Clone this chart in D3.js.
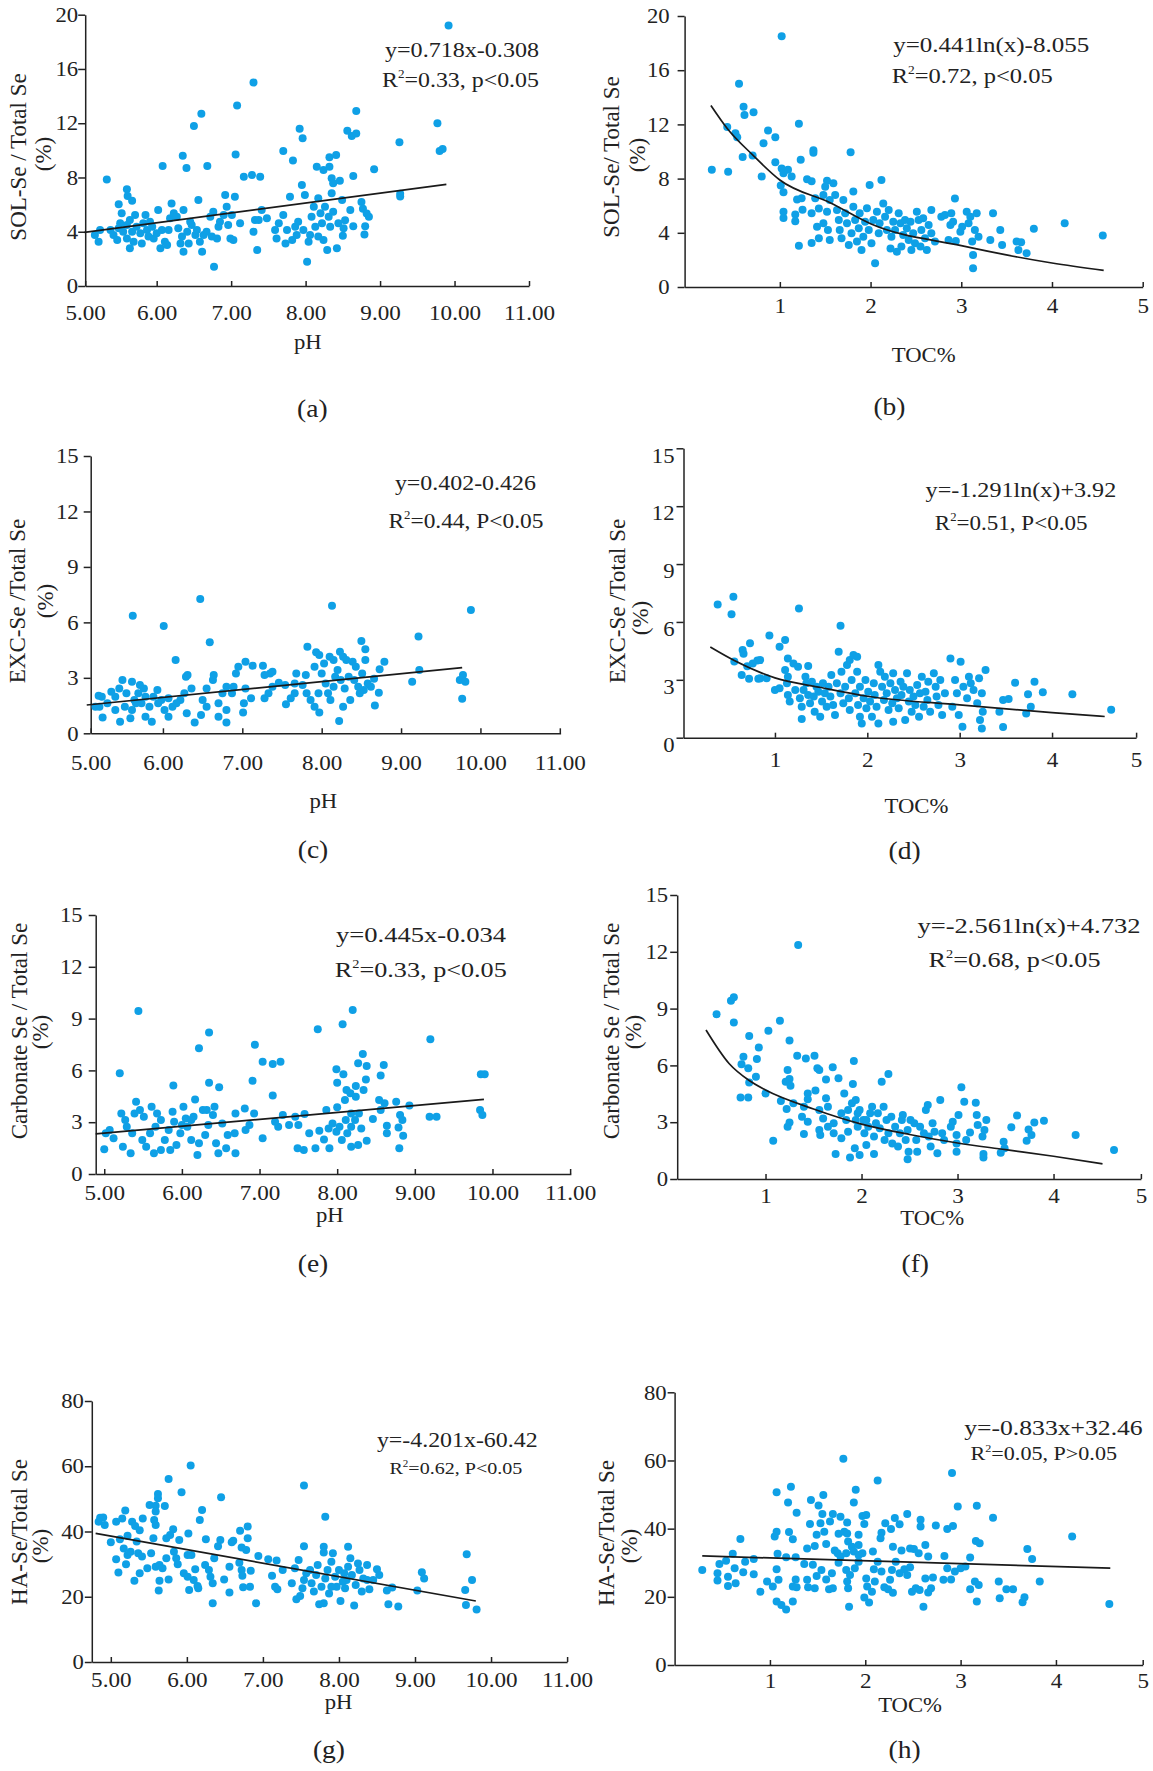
<!DOCTYPE html>
<html>
<head>
<meta charset="utf-8">
<script src="https://cdn.jsdelivr.net/npm/d3@7"></script>
<style>
  body { margin: 0; background: #fff; }
  svg text { font-family: "Liberation Serif", "Times New Roman", serif; fill: #222; }
</style>
</head>
<body>
<svg id="chart" width="1153" height="1771"></svg>
<script>
'use strict'

// tick labels
var phTicks = ['5.00', '6.00', '7.00', '8.00', '9.00', '10.00', '11.00']
  , tocTicks = ['1', '2', '3', '4', '5']
  , yTicks20 = [0, 4, 8, 12, 16, 20]
  , yTicks15 = [0, 3, 6, 9, 12, 15]
  , yTicks80 = [0, 20, 40, 60, 80]

// (a) SOL-Se vs pH
var solPH = [[9.92,19.2],[7.3,15.0],[7.08,13.3],[6.6,12.7],[6.5,11.8],[6.35,9.6],[6.4,8.7],[6.08,8.85],[6.68,8.85],[7.06,9.7],[7.7,9.95],[7.83,9.25],[7.92,11.6],[7.96,10.9],[8.15,8.8],[8.24,8.55],[8.32,9.5],[8.41,9.65],[8.32,8.8],[8.56,11.45],[8.62,11.05],[8.68,11.25],[8.68,12.9],[8.92,8.6],[9.26,10.6],[9.27,6.8],[9.27,6.6],[9.77,12.0],[9.8,9.95],[9.84,10.1],[8.64,8.1],[8.6,5.6],[8.75,6.2],[8.77,5.7],[8.82,5.35],[8.85,5.1],[8.8,4.4],[8.79,3.8],[8.64,4.4],[8.53,4.85],[8.5,3.7],
  [5.17,3.76],[5.24,4.13],[5.22,3.27],[5.38,4.13],[5.42,3.76],[5.47,3.39],[5.49,4.25],[5.51,4.62],[5.53,5.36],[5.55,4.0],[5.6,3.51],[5.6,4.5],[5.64,4.86],[5.64,2.78],[5.67,4.0],[5.69,3.27],[5.71,5.23],[5.73,4.37],[5.78,3.88],[5.8,3.14],[5.82,4.62],[5.85,5.23],[5.87,4.13],[5.89,3.64],[5.91,4.74],[5.94,4.37],[5.96,3.51],[6.0,3.88],[6.02,5.6],[6.05,2.78],[6.07,4.13],[6.11,3.27],[6.14,3.02],[6.16,4.13],[6.18,4.99],[6.2,6.09],[6.23,5.36],[6.27,5.11],[6.29,4.25],[6.32,3.14],[6.34,3.64],[6.36,2.53],[6.36,5.6],[6.41,4.0],[6.43,3.14],[6.45,4.74],[6.47,4.5],[6.52,3.76],[6.54,4.13],[6.56,6.34],[6.58,3.27],[6.61,2.53],[6.63,3.76],[6.67,4.0],[6.72,5.11],[6.74,3.64],[6.76,5.48],[6.81,3.51],[6.83,4.37],[6.85,4.74],[6.9,5.23],[6.92,6.71],[6.94,5.85],[6.96,4.5],[6.99,3.51],[7.01,5.23],[7.03,3.39],[7.05,6.58],[7.12,4.62],[7.17,8.06],[7.28,8.18],[7.3,4.0],[7.32,4.86],[7.35,2.65],[7.37,4.86],[7.39,8.06],[7.41,5.6],[7.48,4.99],[7.59,4.13],[7.61,3.51],[7.64,4.62],[7.7,5.23],[7.73,3.14],[7.75,4.13],[7.79,6.58],[7.82,3.39],[7.86,4.37],[7.88,3.76],[7.9,4.74],[7.95,7.44],[7.97,4.13],[7.99,6.71],[8.02,1.79],[8.04,3.27],[8.06,3.76],[8.08,5.11],[8.11,5.85],[8.13,4.37],[8.17,6.46],[8.17,3.64],[8.2,5.36],[8.22,4.62],[8.24,3.39],[8.26,5.85],[8.29,2.65],[8.31,5.11],[8.33,4.37],[8.35,6.83],[8.37,5.48],[8.42,2.78],[8.44,4.62],[8.49,6.34],[8.51,4.25],
  [5.33,7.86],[5.6,7.13],[5.61,6.63],[5.67,6.29],[5.49,6.02],[8.35,7.94],[8.37,7.57],[8.46,7.76],[6.77,1.42]]
  , trendA = [[5.03,3.96],[9.89,7.49]]

// (b) SOL-Se vs TOC
var solTOC = [[1.02,18.5],[0.55,15.0],[0.6,13.3],[0.61,12.7],[0.71,12.9],[0.42,11.8],[0.51,11.35],[0.53,11.05],[0.87,11.55],[0.95,11.05],[0.82,10.6],[1.21,12.05],[1.37,10.1],[1.37,9.9],[1.78,9.95],[0.59,9.6],[0.7,9.7],[0.25,8.65],[0.43,8.5],[0.95,9.2],[1.02,8.75],[1.04,8.4],[1.09,8.65],[1.13,8.15],[1.23,9.4],[0.8,8.15],[1.01,7.5],[1.04,7.0],[1.3,7.95],[1.35,7.8],[1.52,7.85],[1.19,6.45],[1.24,6.55],[1.39,6.55],[1.04,5.55],[1.04,5.1],[1.17,5.35],[1.17,4.85],[1.25,5.7],[1.35,5.45],[1.43,5.8],[1.21,3.05],[1.35,3.25],[1.43,3.6],[1.41,4.45],[3.66,3.3],[3.72,2.5],[3.8,4.3],[4.14,4.7],[4.56,3.8],
  [1.48,6.79],[1.5,7.4],[1.55,6.42],[1.59,7.65],[1.61,6.79],[1.52,5.56],[1.48,4.7],[1.53,4.21],[1.55,3.47],[1.63,5.68],[1.65,4.94],[1.66,4.21],[1.68,3.59],[1.7,6.42],[1.72,5.44],[1.74,4.7],[1.76,3.1],[1.79,3.96],[1.81,5.93],[1.81,7.04],[1.83,4.94],[1.85,3.35],[1.87,4.33],[1.88,5.44],[1.9,2.73],[1.92,3.71],[1.94,4.82],[1.96,5.81],[1.98,4.21],[1.99,7.53],[2.01,3.22],[2.03,4.94],[2.05,1.75],[2.07,5.56],[2.09,3.96],[2.1,4.7],[2.12,7.9],[2.14,6.17],[2.16,5.19],[2.18,4.21],[2.2,5.68],[2.22,2.85],[2.23,3.71],[2.25,4.82],[2.27,4.21],[2.29,2.61],[2.31,5.44],[2.33,4.7],[2.34,2.98],[2.36,3.84],[2.38,4.94],[2.4,4.33],[2.42,3.47],[2.44,4.82],[2.45,2.73],[2.47,3.96],[2.49,3.22],[2.51,5.56],[2.53,4.94],[2.55,2.98],[2.56,4.21],[2.58,5.07],[2.6,3.59],[2.62,2.73],[2.64,4.58],[2.67,5.68],[2.67,3.96],[2.71,3.35],[2.78,5.19],[2.82,5.31],[2.86,3.47],[2.88,4.58],[2.89,5.44],[2.91,4.82],[2.93,6.54],[2.94,3.39],[2.99,4.08],[3.01,4.45],[3.06,5.56],[3.08,4.7],[3.1,5.19],[3.12,3.35],[3.13,2.36],[3.13,1.38],[3.15,4.21],[3.17,5.44],[3.19,3.71],[3.32,3.47],[3.35,5.44],[3.43,4.21],[3.45,3.1],[3.61,3.35],[3.63,2.73]]
  , trendB = [[0.24,13.4],[0.42,11.7],[0.7,9.75],[1.0,7.9],[1.56,6.2],[2.0,4.67],[3.0,3.05],[4.0,1.77],[4.57,1.23]]

// (c) EXC-Se vs pH
var excPH = [[5.62,6.36],[6.01,5.8],[6.47,7.26],[6.59,4.92],[8.13,6.9],[9.88,6.67],[9.22,5.24],[9.23,3.42],[9.14,2.79],[9.74,2.88],[9.78,3.15],[9.81,2.79],[9.77,1.87],[8.5,4.99],[8.55,4.54],[8.55,3.96],[8.79,3.87],[8.73,3.46],[8.66,2.95],[8.67,1.5],[8.72,2.2],[8.62,2.52],[7.82,4.68],[7.93,4.38],[7.97,4.23],[8.1,4.14],[8.23,4.41],[8.27,4.14],[8.31,3.96],[8.39,3.87],[8.43,3.6],[8.51,3.24],[8.58,2.7],[8.53,2.34],[8.48,2.16],[8.36,1.8],[8.27,1.44],[8.22,0.67],[7.97,1.12],[7.91,1.44],[7.86,1.8],[7.81,2.16],[7.76,2.61],[7.8,3.15],[7.91,3.6],[8.0,3.24],[8.05,2.7],[8.08,2.16],[8.11,1.8],[8.15,2.52],[8.17,3.06],[8.2,3.42],[8.24,2.88],[8.29,2.43],[8.34,3.06],[8.41,2.88],[8.46,2.52],[8.15,3.96],[8.03,3.78],[7.96,2.16],[7.68,3.24],[7.66,2.16],[7.61,1.89],[7.55,1.57],[7.66,2.7],[7.54,2.61],[7.46,2.74],[7.35,3.24],[7.38,3.33],[7.28,3.15],[7.26,3.66],[7.13,3.66],[7.04,3.87],[6.95,3.6],[6.92,3.24],[6.89,2.52],[6.87,2.16],[6.8,2.52],[6.75,2.16],[7.02,1.62],[7.01,1.12],[7.11,1.89],[7.04,2.43],[7.28,1.89],[7.33,2.16],[7.38,2.52],[6.63,2.88],[6.64,3.15],[6.55,2.43],[6.5,1.8],[6.55,1.44],[6.7,0.9],[6.8,0.59],[6.8,1.26],[6.7,1.62],[6.4,0.58],[6.36,2.43],[6.31,3.15],[6.29,3.06],[6.16,3.96],[6.27,2.16],[6.22,1.8],[6.3,1.08],[6.48,0.99],[6.12,1.44],[6.07,0.9],[6.02,1.26],[5.98,1.8],[5.93,2.34],[5.88,1.98],[5.83,1.44],[5.86,0.63],[5.78,0.9],[5.73,1.62],[5.76,2.43],[5.69,2.16],[5.64,1.8],[5.61,1.26],[5.59,0.81],[5.54,2.16],[5.49,2.88],[5.61,2.79],[5.45,2.43],[5.4,1.98],[5.46,0.63],[5.35,2.25],[5.3,1.62],[5.24,0.86],[5.23,1.98],[5.2,1.44],[5.15,1.44],[5.19,2.03],[5.4,1.26],[5.52,1.44],[6.07,1.89],[6.17,1.62],[5.94,1.62],[5.78,1.98],[5.66,1.62],[5.71,2.61]]
  , trendC = [[5.04,1.53],[9.77,3.55]]

// (d) EXC-Se vs TOC
var excTOC = [[0.38,6.9],[0.55,7.3],[0.53,6.4],[1.26,6.7],[1.71,5.8],[0.94,5.3],[0.73,4.9],[0.65,4.55],[0.66,4.35],[0.56,3.95],[0.81,4.0],[0.76,3.85],[0.7,3.7],[0.64,3.25],[0.72,3.05],[0.82,3.05],[3.43,1.35],[3.47,1.95],[3.47,0.55],[3.53,2.0],[3.6,2.85],[3.72,1.25],[3.74,2.25],[3.77,1.6],[3.81,2.9],[3.9,2.35],[4.22,2.25],[4.64,1.45],
  [1.05,4.72],[1.11,5.06],[0.84,4.03],[0.84,3.08],[0.91,3.08],[1.0,2.47],[1.05,2.56],[1.14,4.11],[1.2,3.85],[1.25,3.68],[1.36,3.72],[1.11,3.51],[1.14,3.16],[1.13,2.82],[1.14,2.21],[1.16,1.87],[1.22,2.47],[1.27,2.04],[1.29,1.61],[1.29,0.97],[1.31,2.47],[1.33,3.16],[1.34,2.82],[1.36,2.21],[1.38,1.78],[1.4,2.9],[1.42,2.13],[1.43,1.35],[1.45,2.64],[1.47,2.38],[1.49,1.09],[1.51,1.87],[1.52,2.82],[1.54,2.3],[1.56,1.61],[1.58,2.64],[1.6,2.13],[1.61,3.25],[1.63,1.69],[1.65,1.18],[1.67,2.82],[1.69,4.46],[1.71,2.3],[1.72,3.42],[1.74,1.78],[1.76,2.64],[1.78,3.77],[1.8,2.04],[1.81,4.03],[1.81,1.43],[1.83,2.99],[1.85,4.29],[1.87,2.3],[1.89,3.42],[1.89,4.2],[1.9,1.69],[1.92,2.64],[1.92,1.09],[1.94,0.74],[1.96,2.04],[1.98,2.99],[1.99,1.52],[2.01,2.38],[2.03,1.87],[2.05,1.09],[2.07,2.82],[2.08,2.21],[2.1,1.61],[2.12,3.77],[2.12,0.74],[2.14,3.42],[2.16,2.64],[2.18,1.95],[2.19,3.16],[2.21,2.3],[2.23,1.43],[2.25,2.82],[2.27,1.78],[2.28,3.34],[2.28,0.83],[2.3,2.47],[2.32,2.04],[2.34,1.52],[2.36,2.9],[2.37,2.21],[2.39,2.64],[2.41,0.92],[2.43,3.34],[2.45,1.87],[2.46,2.47],[2.48,1.35],[2.5,2.13],[2.52,1.69],[2.54,2.73],[2.56,1.09],[2.57,2.3],[2.59,3.16],[2.61,1.61],[2.63,2.38],[2.65,1.95],[2.66,2.9],[2.68,1.35],[2.72,3.34],[2.74,2.64],[2.75,2.13],[2.77,1.69],[2.79,2.99],[2.81,1.18],[2.84,2.3],[2.9,4.11],[2.92,1.61],[2.95,2.99],[2.97,2.3],[2.99,1.18],[3.01,3.94],[3.03,0.57],[3.04,2.64],[3.08,2.04],[3.1,3.16],[3.12,2.82],[3.15,2.47],[3.19,1.78],[3.21,3.08],[3.22,0.92],[3.24,2.3],[3.25,1.35],[3.28,3.51],[3.24,0.48]]
  , trendD = [[0.3,4.7],[0.56,4.0],[1.0,3.1],[1.5,2.6],[2.0,2.15],[3.0,1.7],[4.0,1.3],[4.57,1.1]]

// (e) Carbonate Se vs pH
var carbPH = [[5.44,9.44],[6.35,8.2],[6.22,7.28],[5.2,5.83],[5.89,5.12],[6.35,5.29],[6.48,5.02],[6.94,7.49],[7.04,6.5],[7.17,6.37],[7.27,6.5],[7.17,4.54],[6.91,5.4],[7.75,8.38],[8.07,8.67],[8.2,9.5],[9.2,7.8],[8.33,6.95],[8.27,6.41],[8.38,6.25],[8.6,6.31],[8.56,5.7],[7.99,6.06],[8.08,5.77],[8.0,5.29],[8.37,5.48],[8.24,5.1],[8.34,4.86],[8.12,4.86],[8.17,4.67],[8.24,4.48],[8.1,4.29],[8.0,3.86],[7.86,3.7],[9.85,5.77],[9.9,5.77],[9.84,3.7],[9.87,3.42],[9.19,3.32],[9.28,3.32],[8.93,3.96],[8.76,4.19],[8.61,4.1],[8.54,4.29],[8.56,3.7],[8.81,3.42],[8.84,3.13],[8.79,2.7],[8.85,2.22],[8.8,1.49],[8.64,2.8],[8.64,2.36],[8.46,3.19],[8.31,2.64],[8.38,1.93],[8.27,1.68],[8.18,1.58],[8.13,2.36],[8.18,2.74],[8.23,3.13],[8.28,3.51],[8.18,3.51],[8.11,3.13],[8.03,2.74],[8.06,1.97],[7.99,2.45],[7.94,2.93],[7.89,2.64],[7.9,1.49],[7.83,2.0],[7.77,2.51],[7.72,1.49],[7.64,2.36],[7.58,3.47],[7.5,2.84],[7.46,3.32],[7.57,1.39],[7.49,1.49],[7.38,2.84],[7.3,3.42],[7.24,2.74],[7.2,3.03],[7.04,2.07],[6.93,3.51],[6.87,2.84],[6.82,2.55],[6.81,3.8],[6.69,3.51],[6.68,2.36],[6.69,1.2],[6.59,2.26],[6.57,1.49],[6.52,2.93],[6.47,1.2],[6.44,1.78],[6.42,3.9],[6.4,3.42],[6.34,2.84],[6.32,3.7],[6.27,3.7],[6.3,2.26],[6.22,1.78],[6.2,1.1],[6.17,4.32],[6.15,3.32],[6.12,1.97],[6.07,2.74],[6.05,3.22],[6.0,2.84],[5.98,2.36],[5.93,1.68],[5.9,3.03],[5.88,3.61],[5.83,2.55],[5.78,1.97],[5.73,1.39],[5.73,3.13],[5.68,3.51],[5.66,2.74],[5.61,3.9],[5.59,2.36],[5.54,1.58],[5.51,3.32],[5.49,1.97],[5.46,3.7],[5.41,4.19],[5.39,3.51],[5.36,2.36],[5.34,1.2],[5.29,2.74],[5.27,3.13],[5.24,1.58],[5.22,3.51],[5.12,2.07],[5.07,2.55],[5.0,1.43],[5.02,2.36],[5.64,1.2],[5.85,1.39],[6.02,3.9],[6.12,3.13]]
  , trendE = [[4.89,2.32],[9.89,4.32]]

// (f) Carbonate Se vs TOC
var carbTOC = [[1.34,12.36],[0.49,8.7],[0.64,9.42],[0.67,9.6],[0.67,8.26],[1.15,8.36],[1.03,7.83],[0.83,7.55],[0.93,6.95],[1.25,7.31],[0.77,6.46],[0.91,6.34],[0.75,6.06],[0.82,5.85],[0.9,5.4],[0.83,5.1],[0.74,4.31],[0.82,4.31],[1.0,4.52],[1.16,4.12],[1.23,5.76],[1.21,5.14],[1.25,5.28],[1.26,4.93],[1.33,6.51],[1.42,6.37],[1.51,6.51],[1.22,3.7],[1.25,2.99],[1.23,2.76],[1.08,2.02],[1.29,4.0],[1.4,3.82],[1.44,4.52],[1.44,4.21],[1.52,4.67],[1.56,5.76],[1.54,5.85],[1.56,3.64],[1.38,3.29],[1.44,3.03],[1.4,2.38],[1.56,2.59],[1.57,2.32],[1.63,5.26],[1.7,5.9],[1.76,5.32],[1.63,4.26],[1.65,3.82],[1.6,3.2],[1.65,2.76],[1.71,2.41],[1.73,1.32],[1.79,3.47],[1.82,4.52],[1.84,3.12],[1.86,2.5],[1.88,1.13],[1.9,4.0],[1.91,5.02],[1.92,6.23],[1.94,4.17],[1.96,3.47],[1.96,2.76],[1.93,1.62],[1.98,1.27],[1.98,3.64],[2.02,3.12],[2.03,2.41],[2.05,1.8],[2.07,2.76],[2.09,3.47],[2.11,3.82],[2.13,2.24],[2.13,1.32],[2.15,2.94],[2.17,3.47],[2.19,2.68],[2.21,5.14],[2.23,3.82],[2.24,2.06],[2.26,3.12],[2.28,5.55],[2.28,2.41],[2.31,3.29],[2.32,1.88],[2.35,2.76],[2.38,1.71],[2.4,2.41],[2.42,3.12],[2.43,3.38],[2.46,2.06],[2.48,2.59],[2.48,1.04],[2.49,1.44],[2.51,3.12],[2.55,2.94],[2.57,2.06],[2.58,1.44],[2.61,2.76],[2.65,2.41],[2.67,3.64],[2.69,3.91],[2.7,2.24],[2.72,1.71],[2.74,2.94],[2.76,2.5],[2.79,1.36],[2.82,4.17],[2.84,2.41],[2.86,2.06],[2.93,2.76],[2.95,3.03],[2.99,2.32],[2.99,1.88],[2.99,1.44],[3.01,3.38],[3.04,4.84],[3.07,4.08],[3.09,2.06],[3.13,2.45],[3.19,4.03],[3.2,3.38],[3.21,2.85],[3.26,2.24],[3.27,1.32],[3.27,1.14],[3.28,2.59],[3.3,3.12],[3.45,1.39],[3.48,1.97],[3.49,1.62],[3.56,2.73],[3.62,3.35],[3.72,2.02],[3.74,2.62],[3.77,2.32],[3.8,2.98],[3.9,3.08],[4.23,2.32],[4.63,1.53],[1.71,2.94],[1.86,3.64],[1.94,3.12],[2.05,3.12],[1.79,2.15]]
  , trendF = [[0.38,7.87],[0.62,6.1],[0.83,5.2],[1.0,4.7],[1.5,3.7],[2.0,2.9],[2.5,2.35],[3.0,1.9],[3.5,1.55],[4.0,1.2],[4.51,0.8]]

// (g) HA-Se vs pH
var haPH = [[6.05,60.2],[5.76,56.1],[7.54,54.1],[5.93,52.0],[6.45,50.5],[5.62,51.5],[5.62,50.2],[5.51,48.1],[5.59,47.9],[5.71,47.8],[6.2,46.6],[7.82,44.5],[5.19,46.4],[5.59,46.1],[4.86,44.2],[4.9,44.3],[4.84,43.0],[4.92,42.0],[5.07,43.0],[5.15,44.0],[5.28,43.0],[5.32,41.7],[5.38,40.4],[5.42,44.0],[5.57,43.5],[5.59,42.0],[6.17,43.5],[6.8,41.5],[6.7,40.2],[6.8,37.9],[5.82,40.7],[5.78,38.9],[5.73,37.9],[5.56,37.9],[6.02,39.4],[5.9,37.4],[6.25,37.6],[6.44,37.4],[6.41,35.5],[6.61,37.2],[6.59,36.7],[6.72,35.1],[6.78,34.3],[7.54,35.5],[7.8,35.3],[7.8,33.6],[8.12,35.3],[9.68,33.0],[5.0,36.7],[5.12,37.6],[5.22,38.7],[5.34,36.9],[5.17,34.8],[5.22,32.8],[5.26,33.8],[5.36,33.3],[5.41,32.3],[5.53,33.3],[5.07,31.5],[5.2,30.0],[5.1,27.4],[5.31,24.9],[5.38,27.2],[5.48,28.7],[5.59,29.2],[5.64,29.7],[5.64,24.9],[5.63,21.9],[5.68,28.7],[5.73,31.8],[5.76,25.3],[5.83,33.8],[5.86,31.8],[5.88,30.0],[5.96,27.2],[6.01,26.1],[6.01,32.8],[6.06,32.8],[6.03,22.1],[6.09,25.1],[6.11,28.4],[6.14,23.3],[6.15,22.6],[6.24,29.7],[6.29,28.2],[6.31,26.1],[6.34,24.1],[6.34,18.0],[6.36,31.8],[6.49,25.3],[6.56,29.2],[6.56,21.3],[6.69,30.4],[6.72,28.2],[6.73,26.4],[6.74,22.9],[6.83,23.1],[6.84,28.0],[6.91,18.0],[6.94,32.5],[7.07,31.5],[7.12,26.4],[7.16,23.1],[7.18,31.1],[7.19,22.3],[7.26,28.2],[7.38,24.1],[7.42,28.7],[7.44,19.2],[7.47,31.3],[7.49,20.2],[7.52,22.6],[7.54,25.1],[7.57,27.2],[7.62,28.2],[7.64,24.1],[7.67,21.6],[7.7,26.7],[7.72,29.7],[7.74,17.7],[7.77,23.1],[7.8,18.0],[7.82,25.6],[7.85,28.2],[7.87,21.0],[7.9,30.7],[7.92,33.3],[7.95,26.1],[7.97,23.1],[8.0,28.2],[8.02,18.7],[8.05,24.6],[8.07,27.2],[8.08,22.6],[8.12,29.2],[8.15,31.8],[8.17,26.7],[8.2,17.3],[8.22,23.6],[8.25,30.2],[8.27,28.2],[8.3,21.6],[8.32,25.6],[8.37,29.7],[8.4,22.3],[8.45,25.1],[8.5,28.4],[8.53,26.7],[8.63,21.9],[8.65,17.7],[8.7,22.8],[8.78,17.0],[9.03,21.9],[9.09,27.5],[9.12,25.6],[9.66,22.1],[9.67,17.5],[9.75,25.1],[9.81,16.1],[8.37,25.1],[8.1,25.1],[7.9,23.1]]
  , trendG = [[4.8,39.4],[9.8,18.7]]

// (h) HA-Se vs TOC
var haTOC = [[1.77,60.5],[2.91,56.3],[2.13,54.1],[1.22,52.3],[1.07,50.7],[1.9,51.4],[1.56,49.9],[1.19,47.7],[1.43,48.4],[1.51,46.8],[1.88,47.7],[2.97,46.5],[3.17,46.7],[1.28,44.7],[1.55,44.3],[1.66,44.3],[1.74,43.5],[1.97,43.7],[2.01,44.0],[2.44,44.3],[2.31,43.1],[3.34,43.2],[1.63,42.1],[1.81,41.8],[1.42,41.4],[1.53,41.6],[1.99,41.4],[2.21,41.6],[2.36,41.3],[2.27,39.9],[2.58,42.6],[2.58,40.6],[2.74,40.9],[2.92,40.8],[2.86,39.9],[1.07,39.1],[1.05,37.7],[1.2,39.0],[1.24,36.9],[0.69,37.0],[1.49,38.2],[1.57,39.1],[1.72,38.5],[1.78,39.1],[1.81,38.6],[1.93,38.2],[2.17,38.8],[2.16,37.2],[3.16,36.4],[3.2,35.7],[4.17,37.7],[1.59,35.5],[1.82,36.2],[1.86,34.7],[1.93,35.2],[2.29,34.7],[2.63,35.2],[1.39,34.2],[1.47,34.9],[1.68,33.6],[1.71,32.8],[1.74,31.8],[1.8,32.8],[1.88,33.3],[1.93,32.3],[1.97,32.8],[2.08,33.3],[2.38,33.6],[2.47,34.2],[2.51,34.0],[2.56,32.8],[2.66,31.8],[2.83,32.0],[3.1,31.5],[3.7,34.0],[3.75,31.1],[0.61,32.6],[0.47,29.6],[0.54,30.6],[0.74,30.3],[0.83,31.1],[0.29,27.9],[0.45,26.9],[0.45,24.8],[0.56,25.9],[0.56,23.2],[0.63,28.4],[0.64,24.0],[0.72,27.2],[0.83,26.6],[0.9,21.5],[0.97,24.5],[1.03,23.0],[1.07,28.1],[1.09,25.0],[1.17,31.6],[1.08,32.6],[1.07,18.6],[1.12,17.6],[1.17,16.3],[1.24,18.6],[1.24,23.0],[1.27,25.1],[1.28,22.8],[1.27,31.6],[1.36,29.6],[1.39,25.0],[1.4,22.8],[1.45,29.4],[1.47,22.5],[1.49,26.1],[1.54,27.9],[1.59,25.1],[1.62,22.2],[1.65,26.9],[1.66,22.5],[1.72,30.0],[1.8,27.9],[1.81,24.5],[1.82,22.5],[1.83,17.1],[1.84,26.4],[1.89,28.4],[1.93,30.3],[1.99,19.8],[2.01,25.4],[2.02,23.0],[2.04,18.3],[2.07,21.5],[2.09,28.1],[2.1,24.5],[2.13,30.3],[2.17,27.4],[2.2,22.8],[2.24,22.2],[2.26,25.0],[2.28,27.9],[2.29,21.2],[2.32,30.3],[2.36,26.9],[2.41,28.1],[2.44,26.4],[2.47,28.7],[2.49,21.5],[2.53,22.5],[2.57,22.0],[2.61,17.1],[2.63,25.4],[2.66,21.3],[2.69,22.5],[2.71,25.7],[2.82,25.0],[2.86,28.4],[2.9,25.1],[2.94,27.4],[3.0,28.4],[3.05,28.9],[3.1,22.2],[3.15,24.5],[3.17,18.6],[3.19,23.5],[3.4,24.5],[3.41,19.6],[3.48,22.2],[3.55,22.2],[3.65,18.4],[3.67,19.9],[3.83,24.5],[4.56,17.9]]
  , trendH = [[0.29,32.0],[4.57,28.4]]

// layout of the eight panels (pixels)
var panels = [
  { pts: solPH, trend: trendA, xl: phTicks, yv: yTicks20, ymax: 20, xd: [5.04, 11], x0: 85.2, x1: 529, ya: 286, yt: 14.7, xoff: 34, ypad: 0,
    title: 'SOL-Se / Total Se', tx: 18.7, ty: 157, px: 43.4, py: 154, xt: 'pH', xtx: 307.9, xty: 349, tag: '(a)', gx: 312.3, gy: 417,
    eq: 'y=0.718x-0.308', r2: '=0.33, p<0.05', e1: [385, 57, 154], e2: [382, 87, 157], f2: 22 },
  { pts: solTOC, trend: trendB, xl: tocTicks, yv: yTicks20, ymax: 20, xd: [-0.05, 5], x0: 684.6, x1: 1142.7, ya: 287, yt: 16, xoff: 26, ypad: 8,
    title: 'SOL-Se/ Total Se', tx: 611.7, ty: 157, px: 637.8, py: 155, xt: 'TOC%', xtx: 923.7, xty: 362, tag: '(b)', gx: 889.5, gy: 415,
    eq: 'y=0.441ln(x)-8.055', r2: '=0.72, p<0.05', e1: [893.2, 52, 196], e2: [891.7, 83, 161], f2: 22 },
  { pts: excPH, trend: trendC, xl: phTicks, yv: yTicks15, ymax: 15, xd: [5.09, 11.01], x0: 90.7, x1: 560.6, ya: 733.3, yt: 456, xoff: 37, ypad: 5,
    title: 'EXC-Se /Total Se', tx: 17.2, ty: 601, px: 45.9, py: 601, xt: 'pH', xtx: 323.3, xty: 808, tag: '(c)', gx: 313, gy: 858,
    eq: 'y=0.402-0.426', r2: '=0.44, P<0.05', e1: [394.9, 490, 141], e2: [388.4, 528, 155], f2: 22 },
  { pts: excTOC, trend: trendD, xl: tocTicks, yv: yTicks15, ymax: 15, xd: [0.01, 4.91], x0: 683.5, x1: 1136.1, ya: 737.7, yt: 448.3, xoff: 29, ypad: 2, ydy: 7,
    title: 'EXC-Se /Total Se', tx: 617.2, ty: 601, px: 640.4, py: 618, xt: 'TOC%', xtx: 916.4, xty: 813, tag: '(d)', gx: 904.6, gy: 859,
    eq: 'y=-1.291ln(x)+3.92', r2: '=0.51, P<0.05', e1: [925.6, 497, 190.6], e2: [934.8, 530, 152.7], f2: 22 },
  { pts: carbPH, trend: trendE, xl: phTicks, yv: yTicks15, ymax: 15, xd: [4.89, 11.01], x0: 95.7, x1: 570.9, ya: 1174, yt: 915, xoff: 26, ypad: 6,
    title: 'Carbonate Se / Total Se', tx: 19.1, ty: 1031, px: 40.9, py: 1032, xt: 'pH', xtx: 329.9, xty: 1222, tag: '(e)', gx: 313, gy: 1272,
    eq: 'y=0.445x-0.034', r2: '=0.33, p<0.05', e1: [336, 942, 170], e2: [334.8, 977, 172], f2: 22 },
  { pts: carbTOC, trend: trendF, xl: tocTicks, yv: yTicks15, ymax: 15, xd: [0.08, 4.91], x0: 677.2, x1: 1140.9, ya: 1179, yt: 895, xoff: 24, ypad: 2,
    title: 'Carbonate Se / Total Se', tx: 611, ty: 1031, px: 633.8, py: 1032, xt: 'TOC%', xtx: 932.2, xty: 1225, tag: '(f)', gx: 915.3, gy: 1272,
    eq: 'y=-2.561ln(x)+4.732', r2: '=0.68, p<0.05', e1: [917.5, 933, 223], e2: [928.5, 967, 172], f2: 22 },
  { pts: haPH, trend: trendG, xl: phTicks, yv: yTicks80, ymax: 80, xd: [4.75, 11], x0: 91.8, x1: 567.1, ya: 1662, yt: 1401, xoff: 25, ypad: 1,
    title: 'HA-Se/Total Se', tx: 19.9, ty: 1532, px: 40.9, py: 1546, xt: 'pH', xtx: 338.6, xty: 1709, tag: '(g)', gx: 329, gy: 1758,
    eq: 'y=-4.201x-60.42', r2: '=0.62, P<0.05', e1: [376.9, 1447, 160.7], e2: [389.5, 1474, 132.8], f2: 17 },
  { pts: haTOC, trend: trendH, xl: tocTicks, yv: yTicks80, ymax: 80, xd: [0, 4.91], x0: 674.6, x1: 1142.7, ya: 1665, yt: 1392.3, xoff: 23, ypad: 1,
    title: 'HA-Se/Total Se', tx: 606.2, ty: 1533, px: 629.4, py: 1546, xt: 'TOC%', xtx: 910.1, xty: 1712, tag: '(h)', gx: 904.6, gy: 1758,
    eq: 'y=-0.833x+32.46', r2: '=0.05, P>0.05', e1: [964.2, 1435, 178.5], e2: [970.5, 1460, 146.5], f2: 19 }
]

var svg = d3.select('#chart')
  , ink = '#222'
  , dot = '#0fa0e6'
  // the original figure is a bit wider than tall, widen glyphs to match
  , widen = function(sel, k){
      sel.each(function(){
        var w = this.getComputedTextLength()
        d3.select(this).attr('textLength', w * k).attr('lengthAdjust', 'spacingAndGlyphs')
      })
    }

panels.forEach(function(p){
  var x = d3.scaleLinear().domain(p.xd).range([p.x0, p.x1])
    , y = d3.scaleLinear().domain([0, p.ymax]).range([p.ya, p.yt])
    , g = svg.append('g')
    , xv = p.xl.map(function(t){ return Math.max(p.xd[0], Math.min(p.xd[1], +t)) })

  // axes
  var xa = g.append('g').attr('transform', 'translate(0,' + p.ya + ')')
    .call(d3.axisBottom(x).tickValues(xv).tickSizeInner(-5).tickSizeOuter(0)
      .tickPadding(p.xoff - 15).tickFormat(function(d, i){ return p.xl[i] }))
  var ya = g.append('g').attr('transform', 'translate(' + p.x0 + ',0)')
    .call(d3.axisLeft(y).tickValues(p.yv).tickSize(7).tickSizeOuter(0).tickPadding(p.ypad))
  ;[xa, ya].forEach(function(a){
    a.attr('font-size', 21).attr('font-family', null).style('color', ink)
    a.selectAll('path, line').attr('stroke-width', 1.5)
  })
  if (p.ydy) ya.selectAll('text').attr('y', p.ydy)
  widen(xa.selectAll('text'), 1.1)
  widen(ya.selectAll('text'), 1.08)

  // points
  g.append('g').selectAll('circle').data(p.pts).enter().append('circle')
    .attr('cx', function(d){ return x(d[0]) })
    .attr('cy', function(d){ return y(d[1]) })
    .attr('r', 4).attr('fill', dot)

  // fitted line
  g.append('path').datum(p.trend)
    .attr('d', d3.line().x(function(d){ return x(d[0]) }).y(function(d){ return y(d[1]) }).curve(d3.curveMonotoneX))
    .attr('fill', 'none').attr('stroke', '#1a1a1a').attr('stroke-width', 1.7)

  // y title, two lines
  g.append('text').attr('transform', 'translate(' + p.tx + ',' + p.ty + ') rotate(-90)')
    .attr('text-anchor', 'middle').attr('dominant-baseline', 'central').attr('font-size', 23).text(p.title)
  g.append('text').attr('transform', 'translate(' + p.px + ',' + p.py + ') rotate(-90)')
    .attr('text-anchor', 'middle').attr('dominant-baseline', 'central').attr('font-size', 23).text('(%)')

  // x title and panel tag
  var xt = g.append('text').attr('x', p.xtx).attr('y', p.xty).attr('text-anchor', 'middle').attr('font-size', 21).text(p.xt)
  var tg = g.append('text').attr('x', p.gx).attr('y', p.gy).attr('text-anchor', 'middle').attr('font-size', 25).text(p.tag)
  widen(xt, 1.08); widen(tg, 1.1)

  // equation
  g.append('text').attr('x', p.e1[0]).attr('y', p.e1[1]).attr('font-size', 22)
    .attr('textLength', p.e1[2]).attr('lengthAdjust', 'spacingAndGlyphs').text(p.eq)
  var r = g.append('text').attr('x', p.e2[0]).attr('y', p.e2[1]).attr('font-size', p.f2)
    .attr('textLength', p.e2[2]).attr('lengthAdjust', 'spacingAndGlyphs')
  r.append('tspan').text('R')
  r.append('tspan').attr('font-size', p.f2 * 0.55).attr('dy', -p.f2 * 0.42).text('2')
  r.append('tspan').attr('dy', p.f2 * 0.42).text(p.r2)
})
</script>
</body>
</html>
